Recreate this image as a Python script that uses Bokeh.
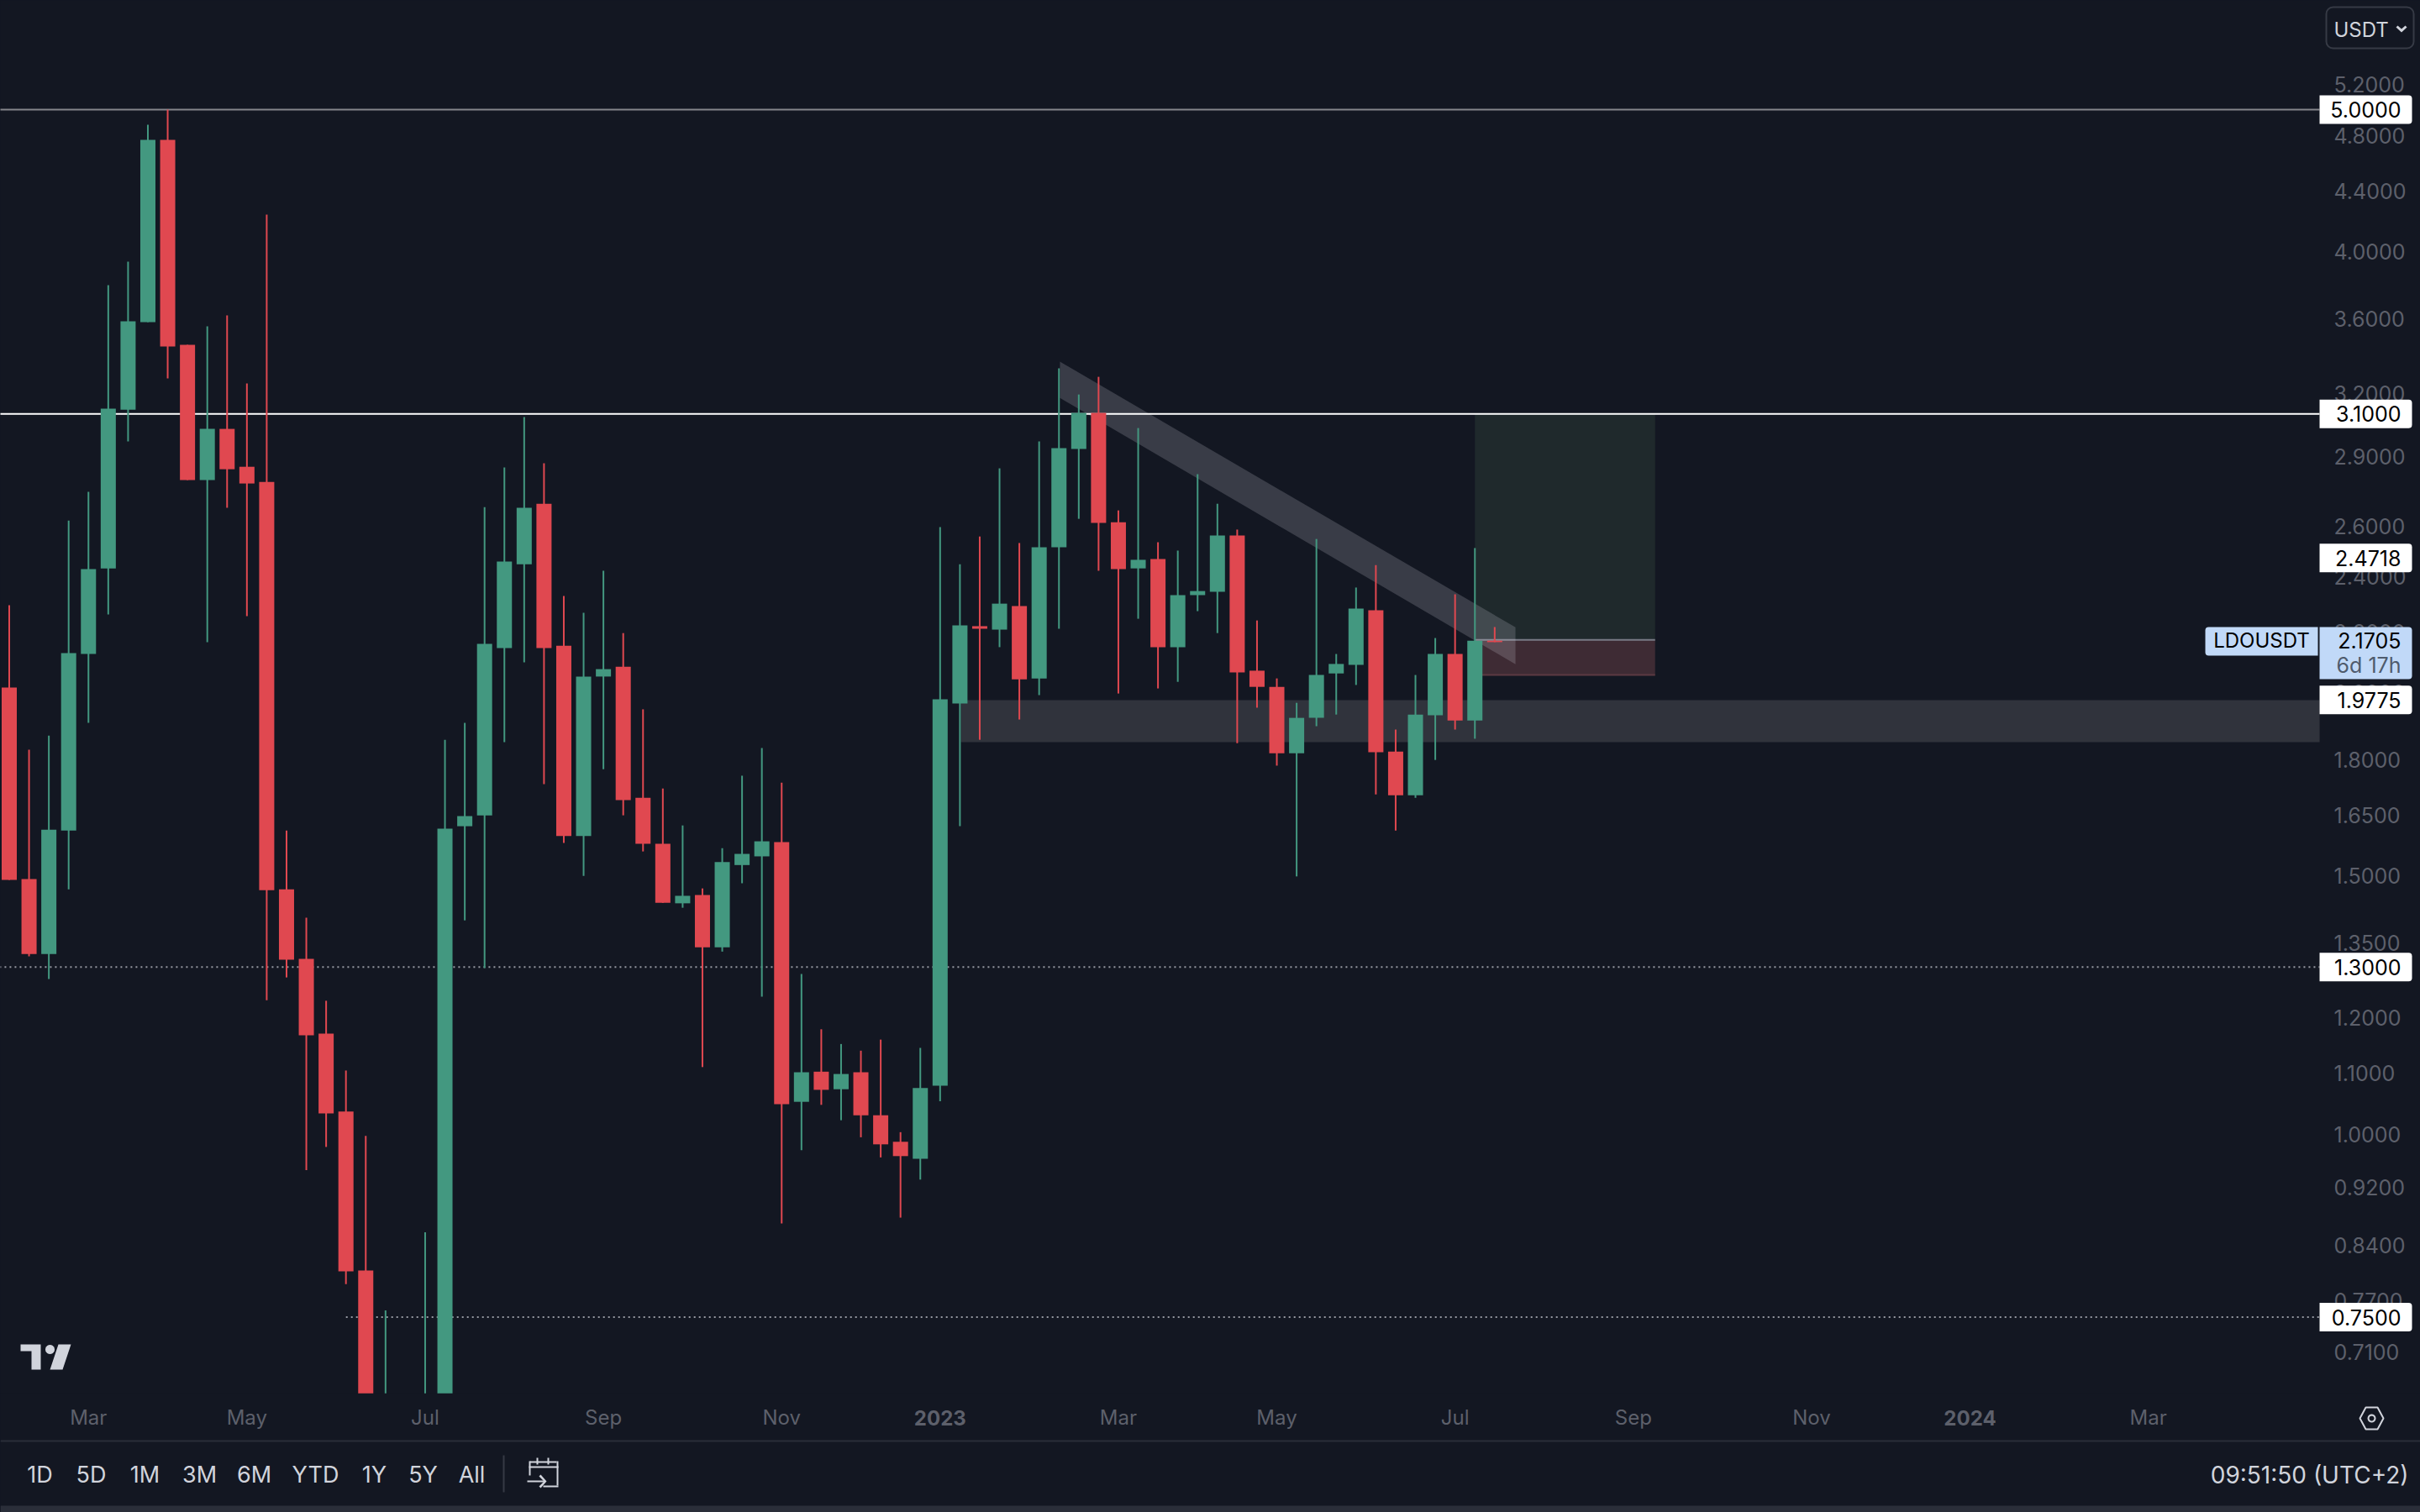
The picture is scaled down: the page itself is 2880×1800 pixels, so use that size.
import math

from bokeh.embed import file_html
from bokeh.models import (BoxAnnotation, FixedTicker, GlobalInlineStyleSheet, Label, PolyAnnotation,
                          PrintfTickFormatter, Range1d)
from bokeh.plotting import figure
from bokeh.resources import INLINE

# weekly LDOUSDT candles
opens = [2.017, 1.493, 1.327, 1.611, 2.126, 2.432, 3.121, 3.581, 4.768, 3.455, 2.794, 3.028, 2.853, 2.786, 1.469,
         1.317, 1.171, 1.036, 0.807, 0.559, 0.63, 0.574, 0.646, 1.622, 1.65, 2.146, 2.448, 2.692, 2.154, 1.597,
         2.052, 2.084, 1.696, 1.578, 1.437, 1.456, 1.341, 1.526, 1.547, 1.582, 1.052, 1.103, 1.073, 1.102, 1.03,
         0.988, 0.962, 1.079, 1.967, 2.221, 2.209, 2.292, 2.046, 2.514, 2.934, 3.105, 2.615, 2.432, 2.468, 2.149,
         2.332, 2.344, 2.561, 2.071, 2.019, 1.819, 1.923, 2.062, 2.09, 2.277, 1.824, 1.703, 1.931, 2.126, 1.915,
         2.171]
closes = [1.491, 1.327, 1.613, 2.129, 2.429, 3.126, 3.585, 4.768, 3.446, 2.794, 3.028, 2.842, 2.779, 1.467, 1.315,
          1.168, 1.033, 0.806, 0.559, 0.638, 0.567, 0.646, 1.616, 1.648, 2.16, 2.458, 2.675, 2.146, 1.597, 2.052,
          2.076, 1.69, 1.578, 1.438, 1.454, 1.341, 1.533, 1.553, 1.584, 1.048, 1.102, 1.072, 1.099, 1.03, 0.984,
          0.966, 1.075, 1.98, 2.224, 2.212, 2.301, 2.043, 2.514, 2.938, 3.105, 2.612, 2.429, 2.465, 2.149, 2.332,
          2.347, 2.561, 2.065, 2.019, 1.819, 1.923, 2.057, 2.093, 2.283, 1.822, 1.703, 1.933, 2.126, 1.915, 2.171,
          2.166]
highs = [2.295, 1.829, 1.87, 2.622, 2.743, 3.795, 3.938, 4.883, 5.0, 3.455, 3.557, 3.619, 3.252, 4.24, 1.611, 1.405,
         1.233, 1.105, 0.997, 0.758, 0.646, 0.857, 1.858, 1.908, 2.678, 2.85, 3.085, 2.869, 2.329, 2.268, 2.423,
         2.197, 1.949, 1.721, 1.624, 1.471, 1.567, 1.756, 1.834, 1.737, 1.286, 1.179, 1.152, 1.14, 1.16, 1.003,
         1.145, 2.595, 2.448, 2.557, 2.846, 2.531, 2.969, 3.33, 3.196, 3.286, 2.664, 3.032, 2.534, 2.501, 2.82,
         2.692, 2.585, 2.241, 2.046, 1.969, 2.547, 2.126, 2.36, 2.445, 1.888, 2.057, 2.18, 2.335, 2.511, 2.218]
lows = [1.491, 1.322, 1.276, 1.469, 1.908, 2.262, 2.969, 3.581, 3.278, 2.794, 2.166, 2.675, 2.256, 1.234, 1.279,
        0.945, 0.98, 0.79, 0.517, 0.517, 0.517, 0.537, 0.63, 1.399, 1.298, 1.851, 2.098, 1.733, 1.58, 1.5, 1.774,
        1.65, 1.559, 1.438, 1.427, 1.111, 1.332, 1.483, 1.241, 0.869, 0.975, 1.047, 1.022, 0.995, 0.964, 0.877,
        0.931, 1.053, 1.622, 1.858, 2.149, 1.918, 1.993, 2.212, 2.629, 2.423, 1.998, 2.247, 2.014, 2.035, 2.274,
        2.197, 1.848, 1.954, 1.784, 1.499, 1.898, 1.933, 2.025, 1.705, 1.611, 1.696, 1.8, 1.888, 1.861, 2.166]

price_ticks = [5.2, 4.8, 4.4, 4.0, 3.6, 3.2, 2.9, 2.6, 2.4, 2.2, 2.0, 1.8, 1.65, 1.5, 1.35, 1.2, 1.1, 1.0, 0.92,
               0.84, 0.77, 0.71]
month_ticks = [4, 12, 21, 30, 39, 56, 64, 73, 82, 91, 108]
month_labels = ["Mar", "May", "Jul", "Sep", "Nov", "Mar", "May", "Jul", "Sep", "Nov", "Mar"]
year_ticks = [47, 99]
year_labels = ["2023", "2024"]

level_solid = [5.0, 3.1]
level_dotted = [1.3, 0.75]
level_tags = [5.0, 3.1, 2.4718, 1.9775, 1.3, 0.75]
last_price = 2.1705
zone_top, zone_bottom = 1.9775, 1.851
trend_x = [53.05, 76.05, 76.05, 53.05]
trend_y = [3.365, 2.217, 2.092, 3.179]
long_left, long_right = 74.0, 83.1
long_target, long_entry, long_stop = 3.1, 2.174, 2.057

range_buttons = ["1D", "5D", "1M", "3M", "6M", "YTD", "1Y", "5Y", "All"]
button_x = [47, 108, 172, 237, 302, 375, 445, 503, 561]

BG = "#131722"
GREEN = "#439880"
RED = "#e04850"
MUTED = "#5d606b"
LIGHT = "#d1d4dc"
RULE = "#2a2e39"
W, H = 2880, 1800
PANE_X = 116.65  # time index where the price pane starts
PANE_Y = 0.6654  # price where the time pane starts


def sy(Y):
    # screen units count up from the bottom of the frame
    return H - Y


def price_y(price):
    # page row of a price on the log scale below
    return 130 + 757.7 * math.log(5 / price)


# the frame fills the page; both axes sit at fixed places inside it
p = figure(width=W, height=H, y_axis_type="log", y_axis_location="right", output_backend="svg",
           toolbar_location=None, x_range=Range1d(-0.445, 121.74), y_range=Range1d(0.5519, 5.936),
           background_fill_color=BG, border_fill_color=BG, outline_line_color=None,
           min_border_left=0, min_border_top=0, min_border_right=0, min_border_bottom=0)
p.stylesheets = [GlobalInlineStyleSheet(css="html,body{margin:0;padding:0;background:#131722;overflow:hidden}")]
p.grid.visible = False

p.yaxis.fixed_location = PANE_X
p.yaxis.ticker = FixedTicker(ticks=price_ticks)
p.yaxis.formatter = PrintfTickFormatter(format="%.4f")
p.yaxis.major_label_text_font = "Inter"
p.yaxis.major_label_text_font_size = "25px"
p.yaxis.major_label_text_color = MUTED
p.yaxis.major_tick_out = 0
p.yaxis.major_label_standoff = 17
p.yaxis.axis_line_color = None
p.yaxis.major_tick_line_color = None
p.yaxis.minor_tick_line_color = None

p.xaxis.fixed_location = PANE_Y
p.xaxis.ticker = FixedTicker(ticks=month_ticks)
p.xaxis.major_label_overrides = dict(zip(month_ticks, month_labels))
p.xaxis.major_label_text_font = "Inter"
p.xaxis.major_label_text_font_size = "24px"
p.xaxis.major_label_text_color = MUTED
p.xaxis.major_tick_out = 0
p.xaxis.major_label_standoff = 14
p.xaxis.axis_line_color = None
p.xaxis.major_tick_line_color = None
p.xaxis.minor_tick_line_color = None

# drawings below the candles
p.quad(left=48.05, right=PANE_X, top=zone_top, bottom=zone_bottom, fill_color="#30333c", line_color=None)
p.quad(left=long_left, right=long_right, top=long_target, bottom=long_entry, fill_color="#1f292c", line_color=None)
p.quad(left=long_left, right=long_right, top=long_entry, bottom=long_stop, fill_color="#3e2b34", line_color=None)
p.line([long_left, long_right], [long_stop, long_stop], line_color="#5c3a42", line_width=2)
p.line([long_left, long_right], [long_entry, long_entry], line_color="#787b86", line_width=2)
p.patch(trend_x, trend_y, fill_color="#d1d4dc", fill_alpha=0.2, line_color=None)

for level, color in zip(level_solid, ["#85868c", "#ffffff"]):
    p.line([-1, PANE_X], [level, level], line_color=color, line_width=2)
for level, start in zip(level_dotted, [-1, 17]):
    p.line([start, PANE_X], [level, level], line_color="#9598a1", line_width=2, line_dash="2 4")

# candles
index = list(range(len(opens)))
colors = [GREEN if c >= o else RED for o, c in zip(opens, closes)]
p.segment(index, highs, index, lows, line_color=colors, line_width=2)
p.vbar(index, width=0.764, top=[max(o, c) for o, c in zip(opens, closes)],
       bottom=[min(o, c) for o, c in zip(opens, closes)], fill_color=colors, line_color=None)
# candles stop where the time pane starts
p.quad(left=-1, right=125, top=PANE_Y, bottom=0.4, fill_color=BG, line_color=None)


def box(x0, y0, x1, y1, fill=None, line=None, width=2, radius=0):
    p.add_layout(BoxAnnotation(left=x0, right=x1, top=sy(y0), bottom=sy(y1), left_units="screen",
                               right_units="screen", top_units="screen", bottom_units="screen",
                               fill_color=fill, fill_alpha=1 if fill else 0, line_color=line, line_alpha=1,
                               line_width=width, border_radius=radius))


def poly(xs, ys, fill=LIGHT, line=None, width=2):
    p.add_layout(PolyAnnotation(xs=xs, ys=[sy(y) for y in ys], xs_units="screen", ys_units="screen",
                                fill_color=fill, fill_alpha=1 if fill else 0, line_color=line, line_alpha=1,
                                line_width=width))


def text(t, x, Y, color=LIGHT, size="24px", align="center", style="normal"):
    p.add_layout(Label(x=x, y=sy(Y), x_units="screen", y_units="screen", text=t, text_color=color,
                       text_font="Inter", text_font_size=size, text_align=align, text_baseline="middle",
                       text_font_style=style))


def price_text(t, x, price, size="25px", align="right"):
    p.add_layout(Label(x=x, y=price, x_units="screen", y_units="data", text=t, text_color="#000000",
                       text_font="Inter", text_font_size=size, text_align=align, text_baseline="middle"))


for tag in level_tags:
    box(2760, price_y(tag) - 17, 2870, price_y(tag) + 17, fill="#ffffff", radius=(0, 4, 4, 0))
    price_text("%.4f" % tag, 2857, tag)

# last price tag
box(2760, 746, 2870, 808, fill="#c1d9f8", radius=(0, 4, 4, 0))
box(2624, 746, 2758, 780, fill="#c1d9f8", radius=(4, 0, 0, 4))
price_text("%.4f" % last_price, 2857, last_price)
price_text("LDOUSDT", 2691, last_price, size="24px", align="center")
text("6d 17h", 2857, 791, color="#4f5b6d", size="25px", align="right")

# currency button
box(2768, 8, 2872, 57, line="#363a45", radius=8)
text("USDT", 2777, 35, align="left")
poly([2851, 2853, 2857.5, 2862, 2864, 2857.5], [32, 30, 34, 30, 32, 38])

# years on the time axis
for tick, label in zip(year_ticks, year_labels):
    p.add_layout(Label(x=tick, y=sy(1687), x_units="data", y_units="screen", text=label, text_color=MUTED,
                       text_font="Inter", text_font_size="24px", text_font_style="bold", text_align="center",
                       text_baseline="middle"))

# bottom bar
box(0, 1714, 2880, 1716, fill=RULE)
box(0, 1792, 2880, 1800, fill=RULE)
box(598, 1732, 600, 1776, fill="#363a45")
for label, x in zip(range_buttons, button_x):
    text(label, x, 1755, size="27px")
text("09:51:50 (UTC+2)", 2866, 1755, size="28px", align="right")

# calendar icon
box(630, 1739, 662, 1741, fill=LIGHT)
box(629, 1745, 664, 1747, fill=LIGHT)
box(629, 1739, 631, 1756, fill=LIGHT)
box(662, 1739, 664, 1768, fill=LIGHT)
box(646, 1768, 664, 1770, fill=LIGHT)
box(638, 1735, 640, 1743, fill=LIGHT)
box(651, 1735, 653, 1743, fill=LIGHT)
box(627, 1762, 648, 1764, fill=LIGHT)
poly([641, 643, 650, 643, 641, 647], [1757, 1755, 1763, 1771, 1769, 1763])

# settings icon
poly([2808, 2815, 2829, 2836, 2829, 2815], [1688, 1675, 1675, 1688, 1701, 1701], fill=None, line=LIGHT)
poly([2822 + 4 * math.cos(a * math.pi / 8) for a in range(16)],
     [1688 + 4 * math.sin(a * math.pi / 8) for a in range(16)], fill=None, line=LIGHT)

# logo
poly([24, 48, 48, 37, 37, 24], [1600, 1600, 1630, 1630, 1608, 1608])
poly([54 + 5.5 * math.cos(a * math.pi / 10) + 5 for a in range(20)],
     [1606 + 5.5 * math.sin(a * math.pi / 10) for a in range(20)])
poly([69, 84, 74, 59], [1600, 1600, 1630, 1630])

open("out.html", "w").write(file_html(p, INLINE))
